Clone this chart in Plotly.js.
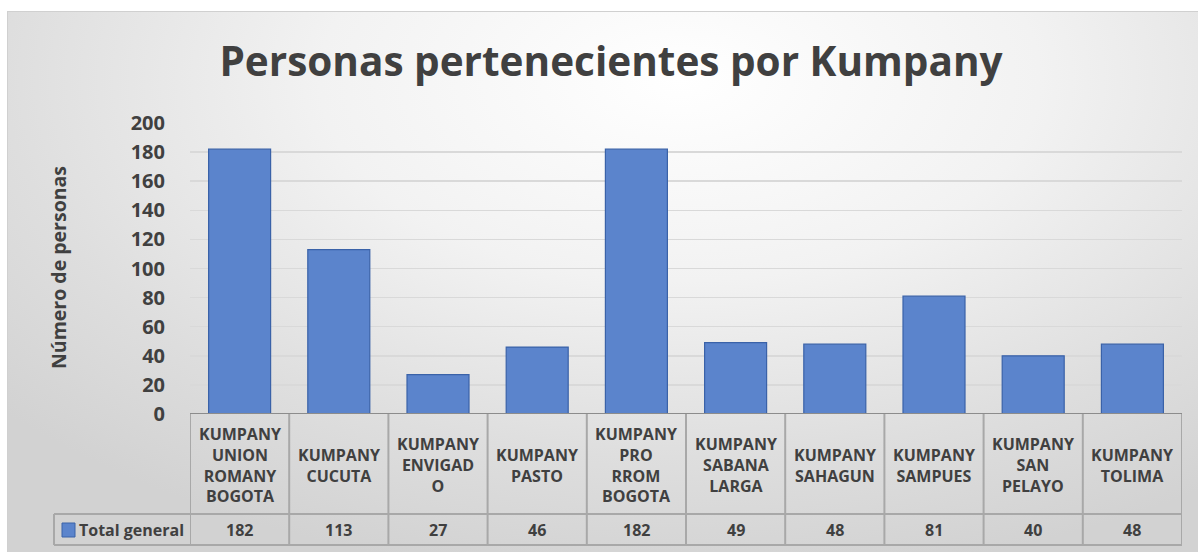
<!DOCTYPE html>
<html>
<head>
<meta charset="utf-8">
<script src="https://cdn.plot.ly/plotly-3.0.1.min.js"></script>
<style>
  html, body { margin: 0; padding: 0; background: #ffffff; }
  #wrap { position: relative; width: 1198px; height: 552px; overflow: hidden; }
  #bg { position: absolute; left: 7px; top: 11px; width: 1200px; height: 560px;
        border: 1px solid #d0d0d0;
        background: radial-gradient(ellipse 75% 90% at 56% 12%, #ffffff 0%, #f2f2f2 40%, #dedede 75%, #d2d2d2 100%); }
  #chart { position: absolute; left: 0; top: 0; width: 1198px; height: 552px; }
</style>
</head>
<body>
<div id="wrap"><div id="bg"></div><div id="chart"></div></div>
<script>
const categories = ["KUMPANY UNION ROMANY BOGOTA", "KUMPANY CUCUTA", "KUMPANY ENVIGADO", "KUMPANY PASTO",
  "KUMPANY PRO RROM BOGOTA", "KUMPANY SABANA LARGA", "KUMPANY SAHAGUN", "KUMPANY SAMPUES",
  "KUMPANY SAN PELAYO", "KUMPANY TOLIMA"];
const headerLabels = ["KUMPANY<br>UNION<br>ROMANY<br>BOGOTA", "KUMPANY<br>CUCUTA", "KUMPANY<br>ENVIGAD<br>O",
  "KUMPANY<br>PASTO", "KUMPANY<br>PRO<br>RROM<br>BOGOTA", "KUMPANY<br>SABANA<br>LARGA", "KUMPANY<br>SAHAGUN",
  "KUMPANY<br>SAMPUES", "KUMPANY<br>SAN<br>PELAYO", "KUMPANY<br>TOLIMA"];
const values = [182, 113, 27, 46, 182, 49, 48, 81, 40, 48];
const seriesName = "Total general";
const yTicks = [0, 20, 40, 60, 80, 100, 120, 140, 160, 180, 200];

const FONT = "Open Sans, Liberation Sans, sans-serif";
const TXT = "#404040";
const BAR = "#5B84CC", BAR_LINE = "#3A62A8";

// pixel geometry helpers (plot area: x 190..1182, y 123..414)
const PL = 190, PR = 1182, PT = 123, PB = 414;
const px2py = py => (PB - py) / (PB - PT);
const px2px = px => (px - PL) / (PR - PL);

const yHeaderBot = px2py(514);
const yValueBot = px2py(545);
const yHeaderMid = px2py(465);
const yValueMid = px2py(530);
const xLegLeft = px2px(54);

const shapes = [];
const lineCol = "#a8a8a8";
for (let i = 0; i <= categories.length; i++) {
  shapes.push({type: "line", xref: "x", yref: "paper", x0: i - 0.5, x1: i - 0.5, y0: 0, y1: yValueBot,
    line: {color: lineCol, width: 2}});
}
shapes.push({type: "line", xref: "paper", yref: "paper", x0: xLegLeft, x1: 1.0, y0: yHeaderBot, y1: yHeaderBot,
  line: {color: lineCol, width: 2}});
shapes.push({type: "line", xref: "paper", yref: "paper", x0: xLegLeft, x1: 1.0, y0: yValueBot, y1: yValueBot,
  line: {color: lineCol, width: 2}});
shapes.push({type: "line", xref: "paper", yref: "paper", x0: xLegLeft, x1: xLegLeft, y0: yHeaderBot, y1: yValueBot,
  line: {color: lineCol, width: 2}});
shapes.push({type: "line", xref: "x", yref: "y", x0: -0.5, x1: categories.length - 0.5, y0: 0, y1: 0,
  line: {color: "#8c8c8c", width: 2}});
// legend key
shapes.push({type: "rect", xref: "paper", yref: "paper", x0: px2px(62), x1: px2px(75), y0: px2py(537), y1: px2py(523),
  fillcolor: BAR, line: {color: BAR_LINE, width: 1}});

const annotations = [];
categories.forEach((c, i) => {
  annotations.push({xref: "x", yref: "paper", x: i, y: yHeaderMid, text: headerLabels[i], showarrow: false,
    xanchor: "center", yanchor: "middle", align: "center",
    font: {family: FONT, size: 16, color: TXT, weight: "bold"}});
  annotations.push({xref: "x", yref: "paper", x: i, y: yValueMid, text: String(values[i]), showarrow: false,
    xanchor: "center", yanchor: "middle",
    font: {family: FONT, size: 16, color: TXT, weight: "bold"}});
});
annotations.push({xref: "paper", yref: "paper", x: px2px(77), y: yValueMid, text: seriesName, showarrow: false,
  xanchor: "left", yanchor: "middle", font: {family: FONT, size: 16, color: TXT, weight: "bold"}});
annotations.push({xref: "paper", yref: "paper", x: px2px(58), y: px2py(268), text: "Número de personas", showarrow: false,
  textangle: -90, xanchor: "center", yanchor: "middle", font: {family: FONT, size: 19.5, color: TXT, weight: "bold"}});

const trace = {
  type: "bar", x: categories, y: values, name: seriesName,
  marker: {color: BAR, line: {color: BAR_LINE, width: 1.2}},
  hoverinfo: "x+y"
};

const layout = {
  width: 1198, height: 552,
  margin: {l: PL, r: 1198 - PR, t: PT, b: 552 - PB, pad: 0},
  paper_bgcolor: "rgba(0,0,0,0)", plot_bgcolor: "rgba(0,0,0,0)",
  showlegend: false,
  bargap: 0.375,
  title: {text: "Personas pertenecientes por Kumpany", xref: "container", yref: "container",
    x: 611 / 1198, y: 1 - 62 / 552, xanchor: "center", yanchor: "middle",
    font: {family: FONT, size: 40.5, color: TXT, weight: "bold"}},
  xaxis: {type: "category", range: [-0.5, categories.length - 0.5], showticklabels: false, showgrid: false,
    zeroline: false, showline: false, ticks: ""},
  yaxis: {range: [0, 200], tickvals: yTicks, showgrid: true, gridcolor: "#d9d9d9", gridwidth: 1.5,
    zeroline: false, showline: false, ticks: "", ticklabelstandoff: 24,
    tickfont: {family: FONT, size: 20, color: TXT, weight: "bold"}},
  shapes: shapes, annotations: annotations
};

Plotly.newPlot("chart", [trace], layout, {displayModeBar: false, staticPlot: true});
</script>
</body>
</html>
